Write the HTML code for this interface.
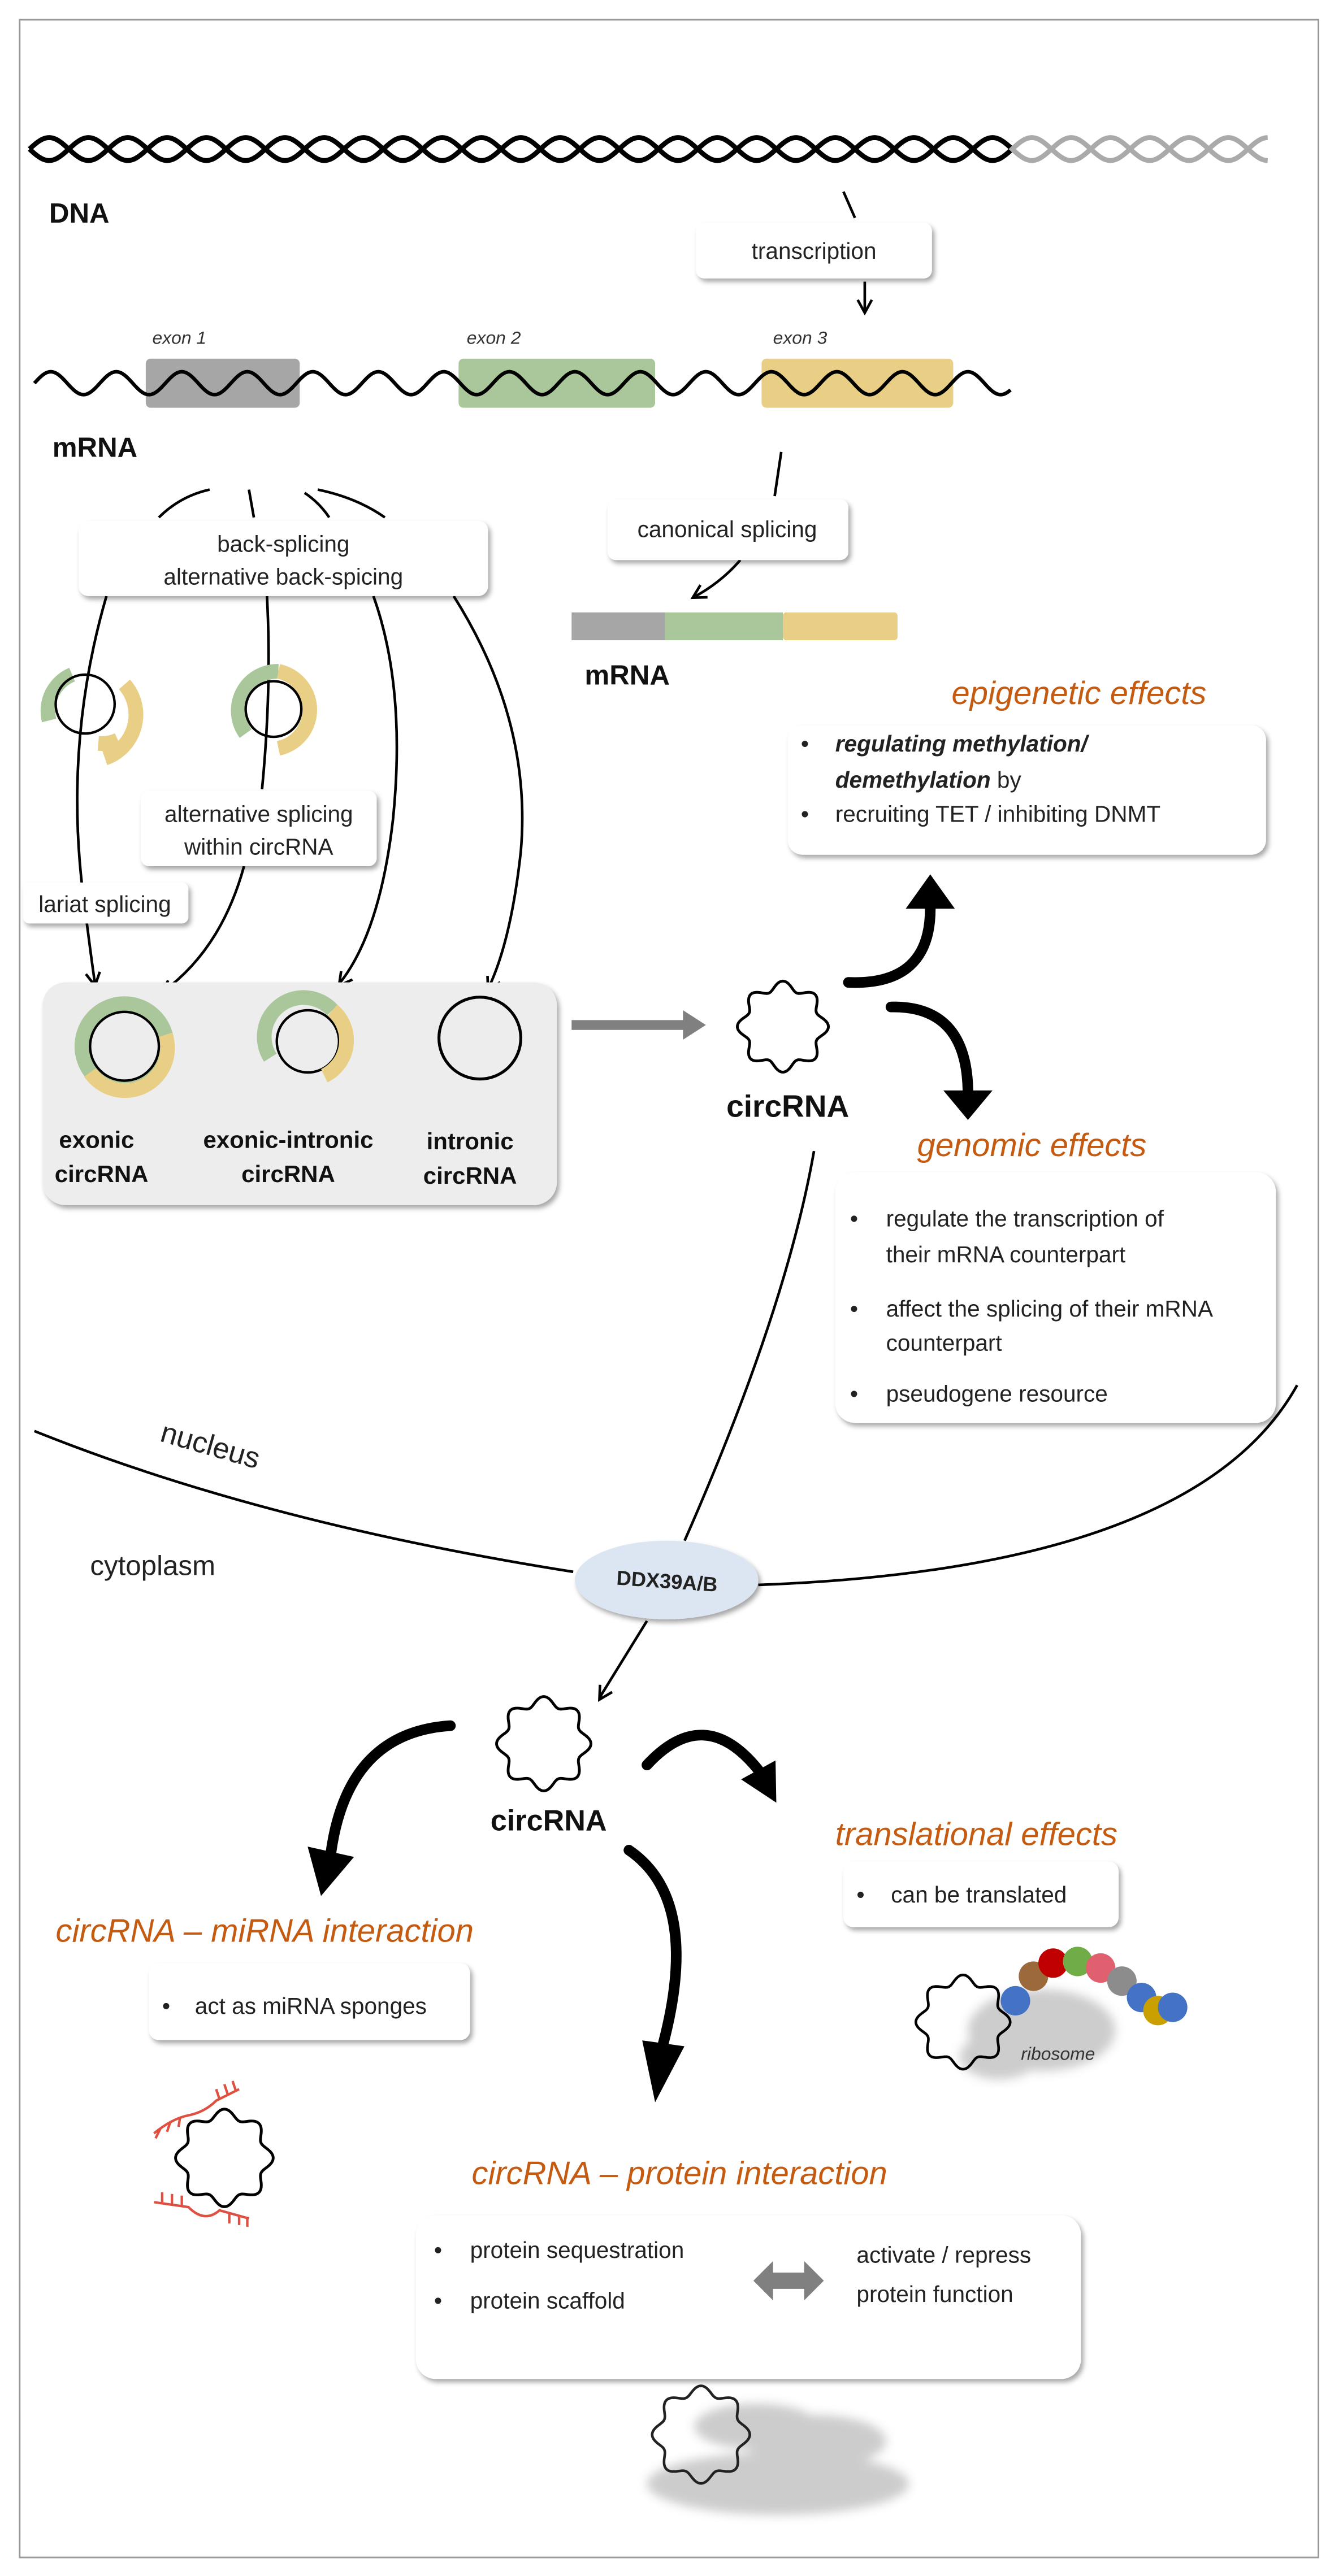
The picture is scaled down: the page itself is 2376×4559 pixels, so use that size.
<!DOCTYPE html>
<html><head><meta charset="utf-8"><style>
html,body{margin:0;padding:0;background:#fff}
svg{display:block}
text{font-family:"Liberation Sans",sans-serif}
.t{font-size:14px;fill:#222}
.b{font-size:17px;font-weight:bold;fill:#111}
.o{font-size:20px;font-style:italic;fill:#c55a11}
.box{fill:#fff;filter:url(#sh)}
</style></head><body>
<svg id="s" width="2376" height="4559" viewBox="0 0 820 1573.3" xmlns="http://www.w3.org/2000/svg">
<defs>
<filter id="sh" x="-10%" y="-10%" width="130%" height="140%"><feDropShadow dx="1.5" dy="2" stdDeviation="1.5" flood-color="#000" flood-opacity="0.35"/></filter>
<filter id="bl"><feGaussianBlur stdDeviation="3"/></filter>
</defs>
<rect x="12" y="12" width="793" height="1550" fill="#fff" stroke="#999" stroke-width="1"/>
<g id="helix"></g>
<text class="b" x="30" y="136">DNA</text>
<rect class="box" x="425" y="136" width="144" height="34" rx="5"/>
<text class="t" x="497" y="158" text-anchor="middle">transcription</text>
<rect x="89" y="219" width="94" height="30" rx="3" fill="#a6a6a6"/>
<rect x="280" y="219" width="120" height="30" rx="3" fill="#a9c79a"/>
<rect x="465" y="219" width="117" height="30" rx="3" fill="#e8cf85"/>
<g id="mwave"></g>
<text x="93" y="210" font-size="11" font-style="italic" fill="#333">exon 1</text>
<text x="285" y="210" font-size="11" font-style="italic" fill="#333">exon 2</text>
<text x="472" y="210" font-size="11" font-style="italic" fill="#333">exon 3</text>
<text class="b" x="32" y="279">mRNA</text>
<g id="lines" fill="none" stroke="#000" stroke-width="1.6">
<path d="M515,117 L522,133"/>
<path d="M528,172 L528,190"/>
<path d="M97,316 Q110,303 128,299"/>
<path d="M152,299 L155,316"/>
<path d="M186,301 Q195,307 201,316"/>
<path d="M194,299 Q218,304 235,316"/>
<path d="M477,276 L473,303"/>
<path d="M452,342 Q440,356 423,365"/>
<path d="M65,364 Q40,450 50,540 Q55,580 58,601"/>
<path d="M163,364 Q166,420 160,482"/>
<path d="M149,529 Q135,580 99,606"/>
<path d="M228,364 Q248,420 240,500 Q232,570 207,601"/>
<path d="M277,364 Q325,440 318,520 Q312,575 298,604"/>
<path d="M497,703 Q480,800 418,941"/>
<path d="M21,874 Q160,930 350,960"/>
<path d="M463,968 Q730,958 792,846"/>
<path d="M395,990 L366,1037"/>
</g>
<rect class="box" x="48" y="318" width="250" height="46" rx="6"/>
<text class="t" x="173" y="337" text-anchor="middle">back-splicing</text>
<text class="t" x="173" y="357" text-anchor="middle">alternative back-spicing</text>
<rect class="box" x="371" y="305" width="147" height="37" rx="5"/>
<text class="t" x="444" y="328" text-anchor="middle">canonical splicing</text>
<rect x="349" y="374" width="57" height="17" fill="#a6a6a6"/>
<rect x="406" y="374" width="72" height="17" fill="#a9c79a"/>
<rect x="478" y="374" width="70" height="17" rx="2" fill="#e8cf85"/>
<text class="b" x="357" y="418">mRNA</text>
<g fill="none">
<path d="M30,440 A24,24 0 0 1 44,412" stroke="#a9c79a" stroke-width="9"/>
<path d="M72,452 A24,24 0 0 1 60,454" stroke="#e8cf85" stroke-width="9"/>
<path d="M76,418 A28,28 0 0 1 64,463" stroke="#e8cf85" stroke-width="9"/>
<circle cx="52" cy="430" r="18" stroke="#000" stroke-width="1.5"/>
<path d="M150,448 A24,24 0 0 1 170,410" stroke="#a9c79a" stroke-width="9"/>
<path d="M170,410 A24,24 0 0 1 170,457" stroke="#e8cf85" stroke-width="9"/>
<circle cx="167" cy="433" r="17" stroke="#000" stroke-width="1.5"/>
</g>
<rect class="box" x="86" y="483" width="144" height="46" rx="5"/>
<text class="t" x="158" y="502" text-anchor="middle">alternative splicing</text>
<text class="t" x="158" y="522" text-anchor="middle">within circRNA</text>
<rect class="box" x="14" y="539" width="101" height="25" rx="4"/>
<text class="t" x="64" y="557" text-anchor="middle">lariat splicing</text>
<rect x="26" y="600" width="314" height="136" rx="14" fill="#ededed" filter="url(#sh)"/>
<g fill="none">
<circle cx="76" cy="639" r="26" stroke="#a9c79a" stroke-width="9"/>
<path d="M101,632 A26,26 0 0 1 55,655" stroke="#e8cf85" stroke-width="9"/>
<circle cx="76" cy="639" r="21" stroke="#000" stroke-width="1.5"/>
<circle cx="188" cy="636" r="19" stroke="#000" stroke-width="1.5"/>
<path d="M165,646 A24,24 0 0 1 203,617" stroke="#a9c79a" stroke-width="9"/>
<path d="M203,617 A24,24 0 0 1 198,657" stroke="#e8cf85" stroke-width="9"/>
<circle cx="293" cy="634" r="25" stroke="#000" stroke-width="1.8"/>
</g>
<g text-anchor="middle">
<text x="59" y="701" class="b" style="font-size:14.5px">exonic</text>
<text x="62" y="722" class="b" style="font-size:14.5px">circRNA</text>
<text x="176" y="701" class="b" style="font-size:14.5px">exonic-intronic</text>
<text x="176" y="722" class="b" style="font-size:14.5px">circRNA</text>
<text x="287" y="702" class="b" style="font-size:14.5px">intronic</text>
<text x="287" y="723" class="b" style="font-size:14.5px">circRNA</text>
</g>
<path d="M349,626 L420,626" stroke="#808080" stroke-width="6"/>
<path d="M417,617 L431,626 L417,635 Z" fill="#808080"/>
<g id="c1"></g>
<text class="b" x="481" y="682" text-anchor="middle" style="font-size:19px">circRNA</text>
<g id="thick"></g>
<text class="o" x="581" y="430">epigenetic effects</text>
<rect class="box" x="481" y="443" width="292" height="79" rx="9"/>
<text class="t" x="489" y="459">•</text><text class="t" x="510" y="459" font-weight="bold" font-style="italic">regulating  methylation/</text>
<text class="t" x="510" y="481"><tspan font-weight="bold" font-style="italic">demethylation</tspan> by</text>
<text class="t" x="489" y="502">•</text><text class="t" x="510" y="502">recruiting TET / inhibiting DNMT</text>
<text class="o" x="560" y="706">genomic effects</text>
<rect class="box" x="510" y="716" width="269" height="153" rx="12"/>
<text class="t" x="519" y="749">•</text><text class="t" x="541" y="749">regulate the transcription of</text>
<text class="t" x="541" y="771">their mRNA counterpart</text>
<text class="t" x="519" y="804">•</text><text class="t" x="541" y="804">affect the splicing of their mRNA</text>
<text class="t" x="541" y="825">counterpart</text>
<text class="t" x="519" y="856">•</text><text class="t" x="541" y="856">pseudogene resource</text>
<text x="97" y="880" font-size="18" fill="#222" transform="rotate(16 97 880)">nucleus</text>
<text x="55" y="962" font-size="17" fill="#222">cytoplasm</text>
<ellipse cx="407" cy="965" rx="56" ry="24" fill="#dce6f2" filter="url(#sh)"/>
<text x="407" y="970" font-size="12.5" font-weight="bold" text-anchor="middle" fill="#222" transform="rotate(4 407 970)">DDX39A/B</text>
<g id="c2"></g>
<text class="b" x="335" y="1118" text-anchor="middle" style="font-size:18px">circRNA</text>
<text class="o" x="510" y="1127">translational effects</text>
<rect class="box" x="515" y="1137" width="168" height="40" rx="6"/>
<text class="t" x="523" y="1162">•</text><text class="t" x="544" y="1162">can be translated</text>
<g filter="url(#bl)" fill="#c8c8c8" opacity="0.9">
<ellipse cx="636" cy="1240" rx="45" ry="25"/>
<ellipse cx="610" cy="1256" rx="24" ry="14"/>
</g>
<g id="c3"></g>
<g>
<circle cx="620" cy="1222" r="9" fill="#4472c4"/>
<circle cx="631" cy="1207" r="9" fill="#9c6a3a"/>
<circle cx="643" cy="1199" r="9" fill="#c00000"/>
<circle cx="658" cy="1198" r="9" fill="#70ad47"/>
<circle cx="672" cy="1202" r="9" fill="#e06070"/>
<circle cx="685" cy="1210" r="9" fill="#8c8c8c"/>
<circle cx="697" cy="1220" r="9" fill="#4472c4"/>
<circle cx="707" cy="1228" r="9" fill="#c9a000"/>
<circle cx="716" cy="1226" r="9" fill="#4472c4"/>
</g>
<text x="646" y="1258" font-size="11" font-style="italic" fill="#333" text-anchor="middle">ribosome</text>
<text class="o" x="34" y="1186">circRNA – miRNA interaction</text>
<rect class="box" x="91" y="1199" width="196" height="47" rx="6"/>
<text class="t" x="99" y="1230">•</text><text class="t" x="119" y="1230">act as miRNA sponges</text>
<g id="c4"></g>
<g fill="none" stroke="#e05040" stroke-width="1.5">
<path d="M94,1303 Q105,1294 115,1292 Q125,1290 132,1283 L146,1276"/>
<path d="M98,1300 l-3,6 M104,1296 l-2,6 M110,1293 l-1,6 M134,1282 l-2,-6 M139,1279 l-2,-6 M144,1277 l-2,-6"/>
<path d="M94,1345 L115,1348 Q125,1358 134,1350 L152,1355"/>
<path d="M99,1345 l0,-6 M105,1346 l0,-6 M111,1347 l0,-6 M140,1352 l0,6 M146,1353 l0,6 M151,1354 l0,6"/>
</g>
<text class="o" x="288" y="1334">circRNA – protein interaction</text>
<rect class="box" x="254" y="1353" width="406" height="100" rx="12"/>
<text class="t" x="265" y="1379">•</text><text class="t" x="287" y="1379">protein sequestration</text>
<text class="t" x="265" y="1410">•</text><text class="t" x="287" y="1410">protein scaffold</text>
<text class="t" x="523" y="1382">activate / repress</text>
<text class="t" x="523" y="1406">protein function</text>
<path d="M460,1393 L472,1381 L472,1388 L491,1388 L491,1381 L503,1393 L491,1405 L491,1398 L472,1398 L472,1405 Z" fill="#808080"/>
<g filter="url(#bl)" fill="#c4c4c4" opacity="0.85">
<ellipse cx="475" cy="1517" rx="80" ry="19"/>
<ellipse cx="462" cy="1482" rx="38" ry="14"/>
<ellipse cx="498" cy="1491" rx="43" ry="16"/>
</g>
<g id="c5"></g>
<script>
var NS="http://www.w3.org/2000/svg";
function el(par,tag,attrs){var e=document.createElementNS(NS,tag);for(var k in attrs)e.setAttribute(k,attrs[k]);document.getElementById(par).appendChild(e);return e;}
function wavy(id,cx,cy,R,a,sw,col){var d="";for(var i=0;i<=360;i++){var t=i*Math.PI/180;var r=R+a*Math.cos(8*t);d+=(i?"L":"M")+(cx+r*Math.cos(t)).toFixed(2)+","+(cy+r*Math.sin(t)).toFixed(2);}
el(id,"path",{d:d+"Z",fill:"none",stroke:col||"#000","stroke-width":sw});}
wavy("c1",478,627,25,2.8,1.7);
wavy("c2",332,1065,26,2.8,1.7);
wavy("c3",588,1235,26,2.8,1.6);
wavy("c4",137,1318,27,2.8,1.7);
wavy("c5",428,1487,27,2.8,1.6,"#222");
function wave(id,x0,x1,y,A,P,ph,col,sw){var d="";for(var x=x0;x<=x1;x+=1){d+=(x==x0?"M":"L")+x+","+(y+A*Math.sin((x-x0)*2*Math.PI/P+ph)).toFixed(2);}
el(id,"path",{d:d,fill:"none",stroke:col,"stroke-width":sw});}
wave("helix",18,617,91,7,48,0,"#000",3);
wave("helix",18,617,91,7,48,Math.PI,"#000",3);
wave("helix",617,774,91,7,48,(617-18)*2*Math.PI/48,"#aaa",3);
wave("helix",617,774,91,7,48,(617-18)*2*Math.PI/48+Math.PI,"#aaa",3);
wave("mwave",21,617,234,7,40,Math.PI,"#000",2.2);
function head(tx,ty,fx,fy){var a=Math.atan2(ty-fy,tx-fx),L=9,s=0.5;
var d="M"+(tx-L*Math.cos(a-s))+","+(ty-L*Math.sin(a-s))+" L"+tx+","+ty+" L"+(tx-L*Math.cos(a+s))+","+(ty-L*Math.sin(a+s));
el("lines","path",{d:d});}
head(528,191,528,180);head(423,365,435,358);head(58,602,56,590);head(99,607,112,597);
head(207,602,216,590);head(298,605,304,593);head(366,1038,372,1028);
function thick(d,tx,ty,bx,by,w){el("thick","path",{d:d,fill:"none",stroke:"#000","stroke-width":6.5,"stroke-linecap":"round"});
var a=Math.atan2(ty-by,tx-bx),px=-Math.sin(a)*w/2,py=Math.cos(a)*w/2;
el("thick","path",{d:"M"+tx+","+ty+" L"+(bx+px)+","+(by+py)+" L"+(bx-px)+","+(by-py)+"Z",fill:"#000"});}
thick("M518,600 Q568,602 568,555",568,534,568,555,30);
thick("M544,615 Q590,614 591,666",591,684,591,666,30);
thick("M275,1054 Q212,1058 202,1132",196,1158,202,1131,29);
thick("M395,1078 Q430,1040 463,1081",474,1101,463,1081,24);
thick("M384,1130 Q428,1160 405,1248",400,1284,405,1248,26);
</script>
</svg>
</body></html>
